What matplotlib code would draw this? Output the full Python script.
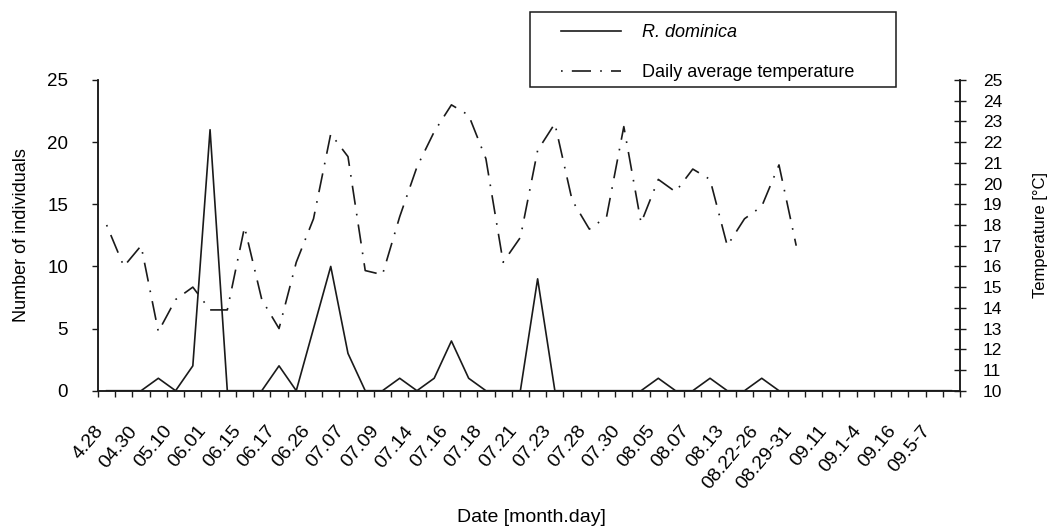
import numpy as np
import matplotlib
matplotlib.use("Agg")
import matplotlib.pyplot as plt
import matplotlib.transforms as mtransforms
from matplotlib.patches import Rectangle

plt.rcParams['font.family'] = ['Liberation Sans', 'DejaVu Sans']

# tick labels shown on every other sampling date
date_labels = ["4.28", "04.30", "05.10", "06.01", "06.15", "06.17", "06.26", "07.07",
               "07.09", "07.14", "07.16", "07.18", "07.21", "07.23", "07.28", "07.30",
               "08.05", "08.07", "08.13", "08.22-26", "08.29-31", "09.11", "09.1-4",
               "09.16", "09.5-7"]

# number of R. dominica caught at each of the 50 sampling points
individuals = [0, 0, 0, 1, 0, 2, 21, 0, 0, 0, 2, 0, 5, 10, 3, 0, 0, 1, 0, 1,
               4, 1, 0, 0, 0, 9, 0, 0, 0, 0, 0, 0, 1, 0, 0, 1, 0, 0, 1, 0,
               0, 0, 0, 0, 0, 0, 0, 0, 0, 0]

# daily average temperature (only recorded for the first 41 points)
temperature = [18.0, 16.0, 17.0, 12.85, 14.4, 15.0, 13.9, 13.9, 17.9, 14.4,
               13.0, 16.2, 18.3, 22.4, 21.3, 15.8, 15.6, 18.4, 20.8, 22.5,
               23.8, 23.3, 21.2, 16.2, 17.4, 21.6, 22.9, 19.2, 17.8, 18.4,
               22.75, 18.1, 20.2, 19.6, 20.7, 20.2, 17.0, 18.3, 18.9, 20.9,
               17.0]

n = len(individuals)
x = np.arange(n)
xt = np.arange(len(temperature))

W, H = 1048, 530
fig = plt.figure(figsize=(W/100, H/100), dpi=100)
ax = fig.add_axes([98/W, 1 - 390.7/H, (960-98)/W, (390.7-80)/H])
ax2 = ax.twinx()

col = "#1a1a1a"
line1, = ax.plot(x, individuals, color=col, lw=1.2)
line2, = ax2.plot(xt, temperature, color=col, lw=1.2, dashes=(1, 5.5, 11.5, 5.5))

ax.set_xlim(-0.5, n - 0.5)
ax.set_ylim(0, 25)
ax2.set_ylim(10, 25)

ax.set_yticks([0, 5, 10, 15, 20, 25])
ax2.set_yticks(range(10, 26))

# boundaries get small ticks, labels sit on even categories
ax.set_xticks(np.arange(-0.5, n, 1), minor=True)
ax.set_xticks(x[::2])
ax.set_xticklabels(date_labels, rotation=50, ha="right", fontsize=14)
shift = mtransforms.ScaledTranslation(12/100, 0, fig.dpi_scale_trans)
for lab in ax.get_xticklabels():
    lab.set_transform(lab.get_transform() + shift)
ax.tick_params(axis="x", which="major", length=0, pad=23)
ax.tick_params(axis="x", which="minor", length=4.5, direction="out", width=1, color=col)
ax.tick_params(axis="y", length=4.5, direction="out", labelsize=13.5, width=1, color=col, pad=17)
ax2.tick_params(axis="y", length=9, direction="inout", labelsize=12.5, width=1, color=col, pad=12)

for a in (ax, ax2):
    a.spines["top"].set_visible(False)
    for s in a.spines.values():
        s.set_color(col)
        s.set_linewidth(1.1)

ax.set_ylabel("Number of individuals", fontsize=13)
ax.yaxis.set_label_coords((30-98)/862, 0.5)
ax2.set_ylabel("Temperature [°C]", fontsize=12)
ax2.yaxis.set_label_coords((1033-98)/862, 0.5)
ax.set_xlabel("Date [month.day]", fontsize=14)
ax.xaxis.set_label_coords((531-98)/862, -(509-390.7)/310.7)

# legend box drawn separately so the frame matches the original size
fig.patches.append(Rectangle((530/W, 1 - 87/H), 366/W, 75/H, transform=fig.transFigure,
                             fill=False, edgecolor=col, linewidth=1.1))
leg = fig.legend([line1, line2], ["R. dominica", "Daily average temperature"],
                 loc="upper left", bbox_to_anchor=(561/W, 1 - 24/H),
                 fontsize=13, frameon=False, handlelength=3.3, handletextpad=1.2,
                 labelspacing=1.27, borderpad=0, borderaxespad=0)
leg.get_texts()[0].set_style("italic")

fig.savefig("out.png", dpi=100)
